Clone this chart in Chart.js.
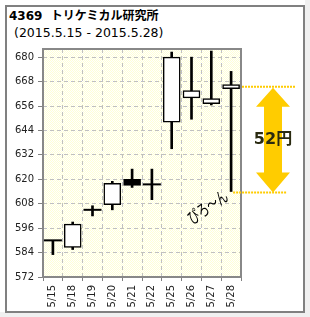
<!DOCTYPE html>
<html>
<head>
<meta charset="utf-8">
<script src="https://cdn.jsdelivr.net/npm/chart.js@4"></script>
<style>
  html, body { margin: 0; padding: 0; }
  body { width: 310px; height: 317px; background: #f0f0f0; position: relative; overflow: hidden; }
  #bg { position: absolute; left: 0; top: 0; width: 305px; height: 312px; background: #fff; }
  #frame { position: absolute; left: 5px; top: 5px; width: 300px; height: 308px; box-sizing: border-box; border: 2px solid #808080; }
  #title { position: absolute; left: 9px; top: 9px; font: bold 12px/14px "DejaVu Sans", "Noto Sans CJK JP"; color: #000; white-space: pre; }
  #period { position: absolute; left: 14px; top: 25px; font: 12.5px/15px "DejaVu Sans", "Noto Sans CJK JP"; color: #000; white-space: pre; }
  canvas { position: absolute; left: 0; top: 0; }
</style>
</head>
<body>
<div id="bg"></div>
<div id="frame"></div>
<div id="title">4369  トリケミカル研究所</div>
<div id="period">(2015.5.15 - 2015.5.28)</div>
<canvas id="chart" width="310" height="317"></canvas>
<script>
// 日足データ
const labels = ['5/15', '5/18', '5/19', '5/20', '5/21', '5/22', '5/25', '5/26', '5/27', '5/28'];
const open  = [590, 586.5, 605, 607.5, 620, 617.5, 648, 660, 657.2, 664.5];
const high  = [590, 599, 607, 619, 625, 625, 682.5, 680, 683, 673];
const low   = [583, 585.5, 602, 605, 616, 610, 635, 649.5, 656.5, 614];
const close = [590, 598, 605, 618, 617, 617.5, 680, 663.6, 659.6, 666.5];
const yTicks = [572, 584, 596, 608, 620, 632, 644, 656, 668, 680];

// 注釈
const arrowTop = 665.5;
const arrowBottom = 613.5;
const arrowText = '52円';
const noteText = 'ぴろ～ん';

Chart.defaults.font.family = '"DejaVu Sans", "Noto Sans CJK JP"';
Chart.defaults.color = '#222';

// チャートエリアの背景 (薄い黄色の網目)
const pat = document.createElement('canvas');
pat.width = 2; pat.height = 2;
const pctx = pat.getContext('2d');
pctx.fillStyle = '#ffffff'; pctx.fillRect(0, 0, 2, 2);
pctx.fillStyle = '#ffffd6'; pctx.fillRect(0, 0, 1, 1); pctx.fillRect(1, 1, 1, 1);

const areaPlugin = {
  id: 'area',
  beforeDraw(chart) {
    const { ctx, chartArea: a } = chart;
    ctx.save();
    ctx.fillStyle = ctx.createPattern(pat, 'repeat');
    ctx.fillRect(a.left, a.top, a.right - a.left, a.bottom - a.top);
    ctx.restore();
  },
  beforeDatasetsDraw(chart) {
    const { ctx, chartArea: a } = chart;
    ctx.save();
    ctx.strokeStyle = '#888';
    ctx.lineWidth = 2;
    ctx.strokeRect(a.left, a.top, a.right - a.left, a.bottom - a.top);
    ctx.restore();
  }
};

// 矢印と手書き風コメント
const notePlugin = {
  id: 'note',
  afterDraw(chart) {
    const { ctx, chartArea: a, scales: { x, y } } = chart;
    const top = y.getPixelForValue(arrowTop);
    const bot = y.getPixelForValue(arrowBottom);
    const last = x.getPixelForValue(labels.length - 1);
    const cx = a.right + 32;
    ctx.save();
    // 点線
    ctx.strokeStyle = '#ffcc00';
    ctx.lineWidth = 2;
    ctx.setLineDash([2, 1]);
    ctx.beginPath();
    ctx.moveTo(a.right + 1, top); ctx.lineTo(cx + 23, top);
    ctx.moveTo(last + 2, bot); ctx.lineTo(cx + 14, bot);
    ctx.stroke();
    ctx.setLineDash([]);
    // 両矢印
    const hw = 17, sw = 9, hl = 20;
    ctx.fillStyle = '#ffcc00';
    ctx.beginPath();
    ctx.moveTo(cx, top + 1);
    ctx.lineTo(cx + hw, top + hl);
    ctx.lineTo(cx + sw, top + hl);
    ctx.lineTo(cx + sw, bot - hl);
    ctx.lineTo(cx + hw, bot - hl);
    ctx.lineTo(cx, bot);
    ctx.lineTo(cx - hw, bot - hl);
    ctx.lineTo(cx - sw, bot - hl);
    ctx.lineTo(cx - sw, top + hl);
    ctx.lineTo(cx - hw, top + hl);
    ctx.closePath();
    ctx.fill();
    ctx.fillStyle = '#2a2a10';
    ctx.font = 'bold 16px "DejaVu Sans", "Noto Sans CJK JP"';
    ctx.textAlign = 'center';
    ctx.textBaseline = 'middle';
    ctx.fillText(arrowText, cx, (top + bot) / 2);
    // ぴろ～ん
    ctx.translate(x.getPixelForValue(8) - 4, y.getPixelForValue(606.5));
    ctx.rotate(-0.6);
    ctx.scale(0.8, 1.2);
    ctx.fillStyle = '#000';
    ctx.font = '14px "Noto Sans CJK JP"';
    ctx.fillText(noteText, 0, 0);
    ctx.restore();
  }
};

const ctx = document.getElementById('chart').getContext('2d');
new Chart(ctx, {
  type: 'bar',
  data: {
    labels: labels,
    datasets: [
      {
        // ひげ
        data: labels.map((_, i) => [low[i], high[i]]),
        backgroundColor: '#000',
        borderWidth: 0,
        barThickness: 2,
        grouped: false,
        order: 3
      },
      {
        // 実体
        data: labels.map((_, i) => [open[i], close[i]]),
        backgroundColor: labels.map((_, i) => close[i] >= open[i] ? '#fff' : '#000'),
        borderColor: '#000',
        borderWidth: 1.5,
        borderSkipped: false,
        barThickness: 17,
        grouped: false,
        order: 2
      },
      {
        // 寄引同事線
        type: 'line',
        data: labels.map((_, i) => open[i] === close[i] ? open[i] : null),
        showLine: false,
        pointStyle: 'line',
        pointRadius: 9,
        pointBorderWidth: 2,
        pointBorderColor: '#000',
        borderColor: '#000',
        order: 1
      }
    ]
  },
  options: {
    responsive: false,
    animation: false,
    events: [],
    layout: { padding: { top: 49, right: 69, left: 0, bottom: 0 } },
    plugins: { legend: { display: false }, tooltip: { enabled: false } },
    scales: {
      x: {
        offset: true,
        afterFit: s => { s.height = 40; },
        grid: { offset: true, color: '#c0c0c0', tickColor: '#808080', tickLength: 4, tickBorderDash: [] },
        border: { display: false, dash: [4, 3] },
        ticks: { minRotation: 90, maxRotation: 90, autoSkip: false, padding: 4, color: '#222', font: { size: 10 } }
      },
      y: {
        min: 572,
        max: 684,
        afterBuildTicks: s => { s.ticks = yTicks.map(v => ({ value: v })); },
        afterFit: s => { s.width = 43; },
        grid: { color: '#c0c0c0', tickColor: '#808080', tickLength: 5, tickBorderDash: [] },
        border: { display: false, dash: [4, 3] },
        ticks: { padding: 4, color: '#222', font: { size: 10 } }
      }
    }
  },
  plugins: [areaPlugin, notePlugin]
});
</script>
</body>
</html>
